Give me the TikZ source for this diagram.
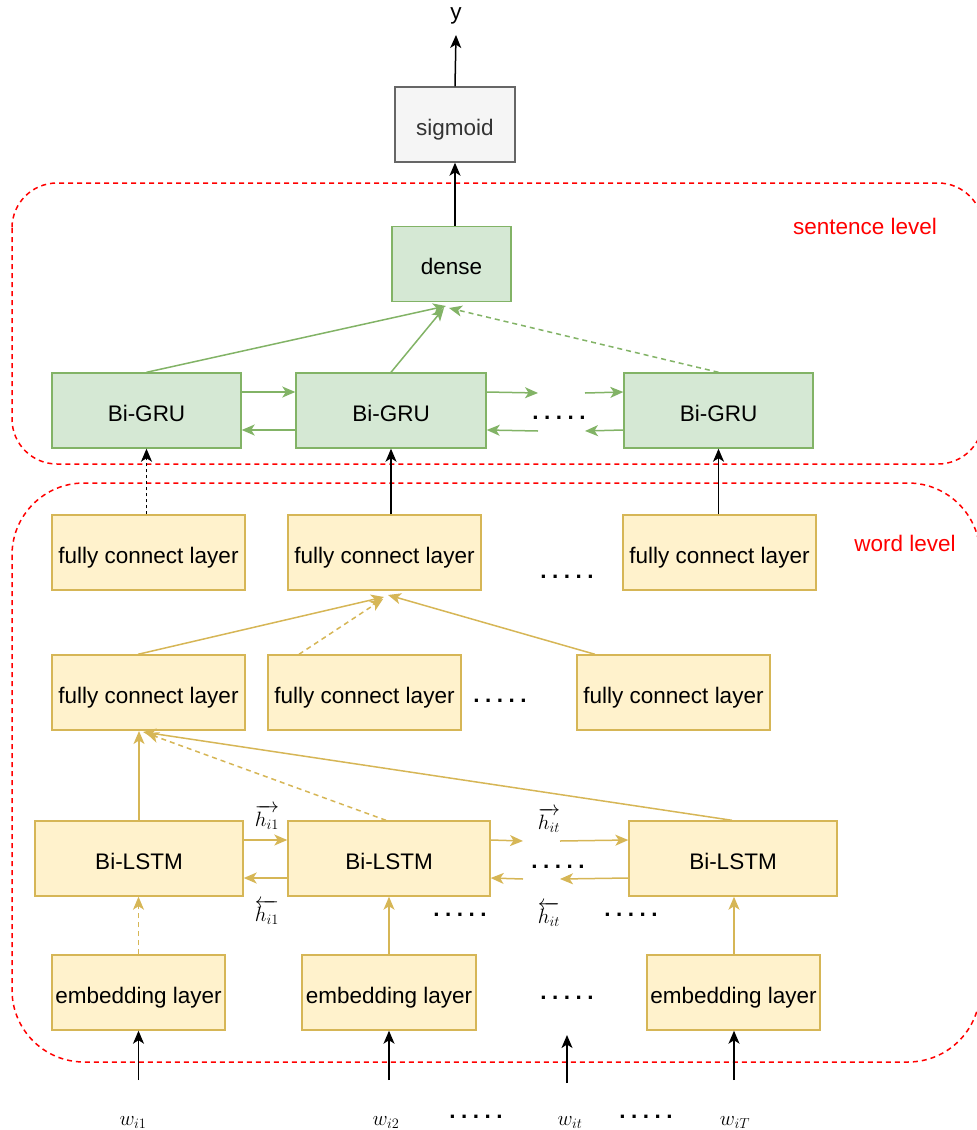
\documentclass[tikz,border=0pt]{standalone}
\usepackage[no-math]{fontspec}
\newfontfamily\boxfont{Liberation Sans}
\usetikzlibrary{arrows.meta}

\definecolor{yfill}{HTML}{FFF2CC}
\definecolor{ydraw}{HTML}{D6B656}
\definecolor{gfill}{HTML}{D5E8D4}
\definecolor{gdraw}{HTML}{82B366}
\definecolor{sfill}{HTML}{F5F5F5}
\definecolor{sdraw}{HTML}{666666}
\definecolor{stext}{HTML}{333333}
\definecolor{lvl}{HTML}{FF0000}

\newcommand{\fivedots}{.\kern5.5pt.\kern5.5pt.\kern5.5pt.\kern5.5pt.}

\tikzset{
  txt/.style={font=\boxfont\fontsize{22.5}{27}\selectfont},
  mth/.style={font=\fontsize{21}{25}\selectfont, inner sep=0pt},
  box/.style={txt, draw, line width=1.4pt, inner sep=0pt, minimum height=75pt,
    text height=25pt, text depth=4pt},
  ybox/.style={box, fill=yfill, draw=ydraw},
  gbox/.style={box, fill=gfill, draw=gdraw},
  sbox/.style={box, fill=sfill, draw=sdraw, text=stext},
  tip/.style={-{Stealth[length=13pt,width=11pt,inset=3.5pt]}, line width=1.5pt},
  yarr/.style={tip, color=ydraw},
  garr/.style={tip, color=gdraw},
  karr/.style={tip, color=black},
  dsh/.style={dash pattern=on 5pt off 4pt},
  level/.style={draw=lvl, line width=1.5pt, dash pattern=on 5pt off 4pt},
  lvltext/.style={txt, text=lvl, inner sep=0pt},
  dots/.style={font=\boxfont\bfseries\fontsize{22.5}{27}\selectfont, inner sep=0pt}
}

\begin{document}
\begin{tikzpicture}[x=1pt,y=-1pt]
\useasboundingbox (0,0) rectangle (977,1130);

% grouping frames
\draw[level, rounded corners=45pt] (12,183) rectangle (983,464);
\draw[level, rounded corners=72pt] (12,483) rectangle (980,1062);
\node[lvltext] (sentlbl) at (865,226) {sentence level};
\node[lvltext] (wordlbl) at (905,543) {word level};

% output part
\node[sbox, minimum width=120pt] (sig) at (455,124.5) {sigmoid};
\node[txt, inner sep=0pt] (ylbl) at (456,16) {y};
\coordinate (ytop) at (456,35);
\node[gbox, minimum width=119pt] (dense) at (451.5,264) {dense};

% sentence level encoders
\node[gbox, minimum width=189pt] (g1) at (146.5,410.5) {Bi-GRU};
\node[gbox, minimum width=190pt] (g2) at (391,410.5) {Bi-GRU};
\node[gbox, minimum width=189pt] (g3) at (718.5,410.5) {Bi-GRU};
\node[dots] (gdots) at (559,418) {\fivedots};

% word level layers
\node[ybox, minimum width=193pt] (f1a) at (148.5,552.5) {fully connect layer};
\node[ybox, minimum width=193pt] (f1b) at (384.5,552.5) {fully connect layer};
\node[ybox, minimum width=193pt] (f1c) at (719.5,552.5) {fully connect layer};
\node[dots] (f1dots) at (567,577) {\fivedots};

\node[ybox, minimum width=193pt] (f2a) at (148.5,692.5) {fully connect layer};
\node[ybox, minimum width=193pt] (f2b) at (364.5,692.5) {fully connect layer};
\node[ybox, minimum width=193pt] (f2c) at (673.5,692.5) {fully connect layer};
\node[dots] (f2dots) at (500,701) {\fivedots};

\node[ybox, minimum width=208pt] (l1) at (139,858.5) {Bi-LSTM};
\node[ybox, minimum width=202pt] (l2) at (389,858.5) {Bi-LSTM};
\node[ybox, minimum width=208pt] (l3) at (733,858.5) {Bi-LSTM};
\node[dots] (ldots) at (558,867) {\fivedots};
\node[dots] (ldotsa) at (460,915) {\fivedots};
\node[dots] (ldotsb) at (631,915) {\fivedots};

\node[ybox, minimum width=173pt] (e1) at (138.5,992.5) {embedding layer};
\node[ybox, minimum width=174pt] (e2) at (389,992.5) {embedding layer};
\node[ybox, minimum width=173pt] (e3) at (733.5,992.5) {embedding layer};
\node[dots] (edots) at (567,998) {\fivedots};

% hidden state labels
\node[mth, anchor=base] (hf1) at (267,826) {$\overrightarrow{h_{i1}}$};
\node[mth, anchor=base] (hb1) at (267,921) {$\overleftarrow{h_{i1}}$};
\node[mth, anchor=base] (hft) at (549,829) {$\overrightarrow{h_{it}}$};
\node[mth, anchor=base] (hbt) at (549,923) {$\overleftarrow{h_{it}}$};

% inputs
\node[mth, anchor=base] (w1) at (133,1125) {$w_{i1}$};
\node[mth, anchor=base] (w2) at (386,1125) {$w_{i2}$};
\node[mth, anchor=base] (wt) at (570,1125) {$w_{it}$};
\node[mth, anchor=base] (wT) at (735,1125) {$w_{iT}$};
\node[dots] (wdotsa) at (476,1117) {\fivedots};
\node[dots] (wdotsb) at (646,1117) {\fivedots};

\coordinate (in1) at (138.5,1080);
\coordinate (in2) at (389,1080);
\coordinate (int) at (567,1083);
\coordinate (intend) at (567,1035);
\coordinate (inT) at (734,1080);

% ---- connectors ----
\draw[karr] (sig.north) -- (ytop);
\draw[karr] (sig.south |- dense.north) -- (sig.south);

% sentence level
\coordinate (dt1) at (446,306);
\coordinate (dt2) at (444,308);
\coordinate (dt3) at (449,308);
\draw[garr] (g1.north) -- (dt1);
\draw[garr] (g2.north) -- (dt2);
\draw[garr, dsh] (g3.north) -- (dt3);

\coordinate (g2fr) at (538,393);
\coordinate (g3fl) at (585,393);
\coordinate (g2br) at (538,431);
\coordinate (g3bl) at (585,431);
\draw[garr] ([yshift=18.5pt]g1.east) -- ([yshift=18.5pt]g2.west);
\draw[garr] ([yshift=-19.5pt]g2.west) -- ([yshift=-19.5pt]g1.east);
\draw[garr] ([yshift=18.5pt]g2.east) -- (g2fr);
\draw[garr] (g3fl) -- ([yshift=18.5pt]g3.west);
\draw[garr] (g2br) -- ([yshift=-19.5pt]g2.east);
\draw[garr] ([yshift=-19.5pt]g3.west) -- (g3bl);

% word level to sentence level
\draw[karr, dashed] (g1.south |- f1a.north) -- (g1.south);
\draw[karr] (g2.south |- f1b.north) -- (g2.south);
\draw[karr] (g3.south |- f1c.north) -- (g3.south);

% second fully connected row to first
\coordinate (ft1) at (384,597);
\coordinate (ft2) at (383,599);
\coordinate (ft3) at (388,595);
\draw[yarr] ([xshift=-10.5pt]f2a.north) -- (ft1);
\draw[yarr, dsh] ([xshift=-65.5pt]f2b.north) -- (ft2);
\draw[yarr] ([xshift=-78.5pt]f2c.north) -- (ft3);

% Bi-LSTM outputs
\coordinate (lt1) at (139,731);
\coordinate (lt2) at (146,733);
\coordinate (lt3) at (143,732);
\draw[yarr] (l1.north) -- (lt1);
\draw[yarr, dsh] ([xshift=-3pt]l2.north) -- (lt2);
\draw[yarr] ([xshift=-1pt]l3.north) -- (lt3);

% Bi-LSTM recurrences
\coordinate (l2fr) at (523,841);
\coordinate (l3fl) at (560,841);
\coordinate (l2br) at (523,879);
\coordinate (l3bl) at (560,879);
\draw[yarr] ([yshift=18.5pt]l1.east) -- ([yshift=18.5pt]l2.west);
\draw[yarr] ([yshift=-19.5pt]l2.west) -- ([yshift=-19.5pt]l1.east);
\draw[yarr] ([yshift=18.5pt]l2.east) -- (l2fr);
\draw[yarr] (l3fl) -- ([yshift=18.5pt]l3.west);
\draw[yarr] (l2br) -- ([yshift=-19.5pt]l2.east);
\draw[yarr] ([yshift=-19.5pt]l3.west) -- (l3bl);

% embeddings to Bi-LSTM
\draw[yarr, dsh] (e1.north) -- (e1.north |- l1.south);
\draw[yarr] (e2.north) -- (e2.north |- l2.south);
\draw[yarr] ([xshift=0.5pt]e3.north) -- ([xshift=0.5pt]e3.north |- l3.south);

% inputs to embeddings
\draw[karr] (in1) -- (e1.south);
\draw[karr] (in2) -- (e2.south);
\draw[karr] (int) -- (intend);
\draw[karr] (inT) -- (inT |- e3.south);
\end{tikzpicture}
\end{document}
